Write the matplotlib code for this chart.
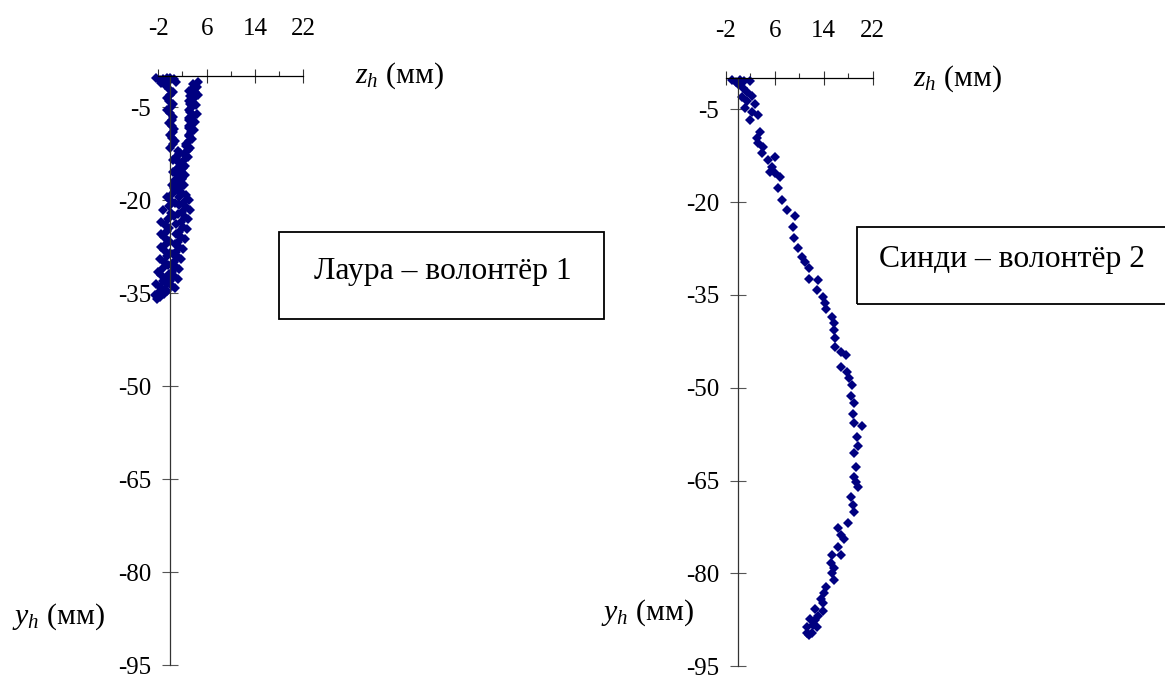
import matplotlib
matplotlib.use("Agg")
import matplotlib.pyplot as plt
from matplotlib.patches import Rectangle
from matplotlib.ticker import FixedLocator

plt.rcParams['font.family'] = ['Liberation Serif', 'DejaVu Serif']
plt.rcParams['mathtext.fontset'] = 'custom'
plt.rcParams['mathtext.it'] = 'Liberation Serif:italic'
plt.rcParams['mathtext.rm'] = 'Liberation Serif'

# Laura - volunteer 1: path down (left band) and path back (right band)
laura_down_z = [-2.3, -1.8, -1.2, -0.6, 0.0, 0.6, 0.9, -1.6, -0.9, -0.4,
                -0.3, 0.0, -0.2, 0.1, -0.1, 0.3, 0.2, 0.4, 0.3, 0.5,
                1.2, 1.0, 1.4, 1.1, 1.3, 0.9, 0.6, 0.2, 0.0, -0.3,
                0.1, -0.4, -0.9, -0.5, -1.1, -0.7, -1.0, -0.6, -1.0, -1.3,
                -1.6, -1.2, -1.8, -2.1, -1.7, -2.2,
                0.5, -0.6, 0.4, -0.5, 0.5, -0.2, 0.6, 0.0, 0.7, 0.0,
                1.5, 0.4, 1.8, 0.5, 1.9, 0.2, 1.3, -0.5, 0.8, -1.2,
                0.6, -1.5, -0.2, -1.6, -0.3, -1.5, 0.0, -1.7, -0.4, -2.0,
                -0.8, -2.3, -1.0, -2.5]
laura_down_y = [-0.3, -0.6, -0.4, -0.2, -0.3, -0.5, -0.9, -1.1, -1.4, -1.0,
                -2.0, -3.0, -4.0, -5.0, -6.0, -7.0, -8.0, -9.0, -10.0, -11.0,
                -12.0, -13.0, -14.0, -15.0, -16.0, -17.0, -18.0, -19.0, -20.0, -21.0,
                -22.0, -23.0, -24.0, -25.0, -26.0, -27.0, -28.0, -29.0, -30.0, -31.0,
                -32.0, -33.0, -34.0, -35.0, -35.6, -36.0,
                -2.5, -3.5, -4.5, -5.5, -6.5, -7.5, -8.5, -9.5, -10.5, -11.5,
                -12.5, -13.5, -14.5, -15.5, -16.5, -17.5, -18.5, -19.5, -20.5, -21.5,
                -22.5, -23.5, -24.5, -25.5, -26.5, -27.5, -28.5, -29.5, -30.5, -31.5,
                -32.5, -33.5, -34.5, -35.3]
laura_back_z = [3.8, 4.4, 3.5, 4.0, 3.3, 3.8, 3.2, 3.6, 3.3, 3.9,
                3.1, 3.5, 3.0, 3.4, 3.0, 3.1, 2.6, 2.9, 2.2, 2.5,
                1.8, 2.1, 1.5, 1.9, 1.2, 1.6, 2.0, 1.4, 2.2, 2.6,
                2.0, 2.4, 1.7, 2.1, 1.4, 1.8, 1.2, 1.5, 0.9, 1.3,
                0.6, 1.0, 0.3, 0.6, -0.1, 0.3, -0.5, -1.0,
                4.6, 3.1, 4.5, 3.0, 4.3, 3.1, 4.4, 3.0, 4.0, 3.0,
                3.9, 3.0, 3.5, 2.6, 3.3, 1.6, 2.9, 1.2, 2.5, 1.0,
                2.4, 0.8, 2.3, 2.6, 3.0, 1.5, 3.2, 1.3, 2.9, 1.0,
                2.7, 0.9, 2.4, 0.7, 2.1, 0.4, 1.8, 0.2, 1.5, -0.2,
                1.2, -0.6, 0.7, -1.2]
laura_back_y = [-1.2, -1.8, -2.0, -2.6, -3.2, -3.6, -4.4, -5.0, -5.8, -6.4,
                -7.0, -7.6, -8.3, -9.0, -9.7, -10.4, -11.2, -11.9, -12.6, -13.3,
                -14.0, -14.8, -15.6, -16.4, -17.2, -18.0, -18.8, -19.5, -20.3, -21.1,
                -21.9, -22.7, -23.5, -24.3, -25.1, -25.9, -26.7, -27.5, -28.3, -29.1,
                -29.9, -30.7, -31.5, -32.3, -33.1, -33.9, -34.6, -35.2,
                -1.0, -2.4, -3.0, -4.0, -4.7, -5.5, -6.1, -6.8, -7.3, -8.0,
                -8.7, -9.4, -10.1, -10.9, -11.6, -12.3, -13.0, -13.7, -14.4, -15.2,
                -16.0, -16.8, -17.6, -19.1, -20.0, -20.7, -21.5, -22.3, -23.1, -23.9,
                -24.7, -25.5, -26.3, -27.1, -27.9, -28.7, -29.5, -30.3, -31.1, -31.9,
                -32.7, -33.5, -34.2, -34.9]

# Cindy - volunteer 2
cindy_z = [-1.0, -0.4, 0.3, 1.0, 2.0, 0.0, 0.8, 1.5, 2.3, 0.6,
           1.4, 2.8, 1.1, 2.2, 3.3, 2.0, 3.6, 3.1, 3.3, 4.1,
           3.9, 4.9, 6.0, 5.5, 5.2, 6.0, 6.9, 6.5, 7.2, 7.9,
           9.3, 9.0, 9.2, 9.7, 10.5, 11.0, 11.6, 11.5, 13.1, 12.9,
           13.9, 14.2, 14.4, 15.4, 15.6, 15.6, 15.9, 15.9, 16.8, 17.6,
           16.8, 17.8, 18.1, 18.6, 18.4, 18.9, 18.7, 18.9, 20.2, 19.4,
           19.6, 18.9, 19.2, 18.9, 19.2, 19.6, 18.4, 18.7, 18.9, 17.9,
           16.3, 16.8, 17.3, 16.3, 16.8, 15.4, 15.1, 15.6, 15.4, 15.6,
           14.4, 14.1, 13.5, 13.9, 12.6, 13.8, 13.1, 11.8, 12.6, 12.3,
           11.3, 12.9, 11.2, 12.1, 11.6]
cindy_y = [-0.3, -0.6, -0.2, -0.5, -0.4, -1.0, -1.6, -2.2, -2.8, -3.0,
           -3.6, -4.2, -4.8, -5.4, -6.0, -6.7, -8.7, -9.6, -10.5, -11.1,
           -12.0, -13.2, -12.7, -14.3, -15.1, -15.3, -15.9, -17.7, -19.6, -21.3,
           -22.3, -24.0, -25.8, -27.4, -28.8, -29.6, -30.6, -32.4, -32.6, -34.2,
           -35.3, -36.3, -37.3, -38.5, -39.5, -40.6, -41.9, -43.4, -44.2, -44.7,
           -46.6, -47.4, -48.4, -49.5, -51.3, -52.4, -54.2, -55.7, -56.2, -57.9,
           -59.4, -60.5, -62.8, -64.4, -65.2, -66.0, -67.6, -68.9, -70.1, -71.8,
           -72.6, -73.8, -74.4, -75.7, -77.0, -77.0, -78.3, -79.1, -79.9, -81.0,
           -82.2, -83.2, -84.1, -84.8, -85.8, -86.1, -86.8, -87.3, -87.6, -88.4,
           -88.7, -88.7, -89.6, -89.6, -90.0]

x_major = [-2, 6, 14, 22]
x_minor = [2, 10, 18]
y_major = [-5, -20, -35, -50, -65, -80, -95]

W, H = 1165, 676
fig = plt.figure(figsize=(W / 100, H / 100), dpi=100)


def px_rect(x0, y0, x1, y1):
	# pixel box (top-left origin) -> figure fraction [l, b, w, h]
	return [x0 / W, 1 - y1 / H, (x1 - x0) / W, (y1 - y0) / H]


def setup_axes(ax):
	ax.set_xlim(-2, 22)
	ax.set_ylim(-95, 0)
	for s in ['right', 'bottom']:
		ax.spines[s].set_visible(False)
	ax.spines['left'].set_position(('data', 0))
	ax.spines['left'].set_color('#333333')
	ax.spines['top'].set_color('black')
	ax.spines['left'].set_linewidth(0.9)
	ax.spines['top'].set_linewidth(0.9)
	ax.xaxis.set_ticks_position('top')
	ax.xaxis.set_major_locator(FixedLocator(x_major))
	ax.xaxis.set_minor_locator(FixedLocator(x_minor))
	ax.set_xticklabels([str(v) for v in x_major])
	ax.yaxis.set_major_locator(FixedLocator(y_major))
	ax.set_yticklabels([str(v) for v in y_major])
	ax.tick_params(axis='x', which='major', direction='inout', length=10, width=0.8,
		color='#333333', labelsize=18, pad=21)
	ax.tick_params(axis='x', which='minor', direction='out', length=3.6, width=0.8,
		color='#333333')
	ax.tick_params(axis='y', which='major', direction='inout', length=11.5, width=0.8,
		color='#555555', labelsize=18, pad=8)
	ax.patch.set_visible(False)


ax1 = fig.add_axes(px_rect(158.3, 76.3, 303.3, 665))
setup_axes(ax1)
ax1.plot(laura_down_z, laura_down_y, 'D', color='#000080', ms=5.2, mew=0, clip_on=False)
ax1.plot(laura_back_z, laura_back_y, 'D', color='#000080', ms=5.2, mew=0, clip_on=False)

ax2 = fig.add_axes(px_rect(726, 78.3, 872.7, 666.3))
setup_axes(ax2)
ax2.plot(cindy_z, cindy_y, 'D', color='#000080', ms=5.6, mew=0, clip_on=False)

# axis titles
fig.text(355 / W, 1 - 76 / H, r'$z_h$ (мм)', fontsize=21.5, va='center', ha='left')
fig.text(913 / W, 1 - 79 / H, r'$z_h$ (мм)', fontsize=21.5, va='center', ha='left')
fig.text(12 / W, 1 - 617 / H, r'$y_h$ (мм)', fontsize=21.5, va='center', ha='left')
fig.text(601 / W, 1 - 613 / H, r'$y_h$ (мм)', fontsize=21.5, va='center', ha='left')

# legend-like boxes
fig.patches.append(Rectangle((279.3 / W, 1 - 319.3 / H), (604 - 279.3) / W, (319.3 - 231.5) / H,
	transform=fig.transFigure, fill=False, edgecolor='black', linewidth=1.3))
fig.text(443 / W, 1 - 271 / H, 'Лаура – волонтёр 1', fontsize=22.8, ha='center', va='center')
fig.patches.append(Rectangle((856.7 / W, 1 - 304.3 / H), (1180 - 856.7) / W, (304.3 - 226.7) / H,
	transform=fig.transFigure, fill=False, edgecolor='black', linewidth=1.3))
fig.text(1012 / W, 1 - 259 / H, 'Синди – волонтёр 2', fontsize=22.8, ha='center', va='center')

fig.savefig('out.png', dpi=100)
